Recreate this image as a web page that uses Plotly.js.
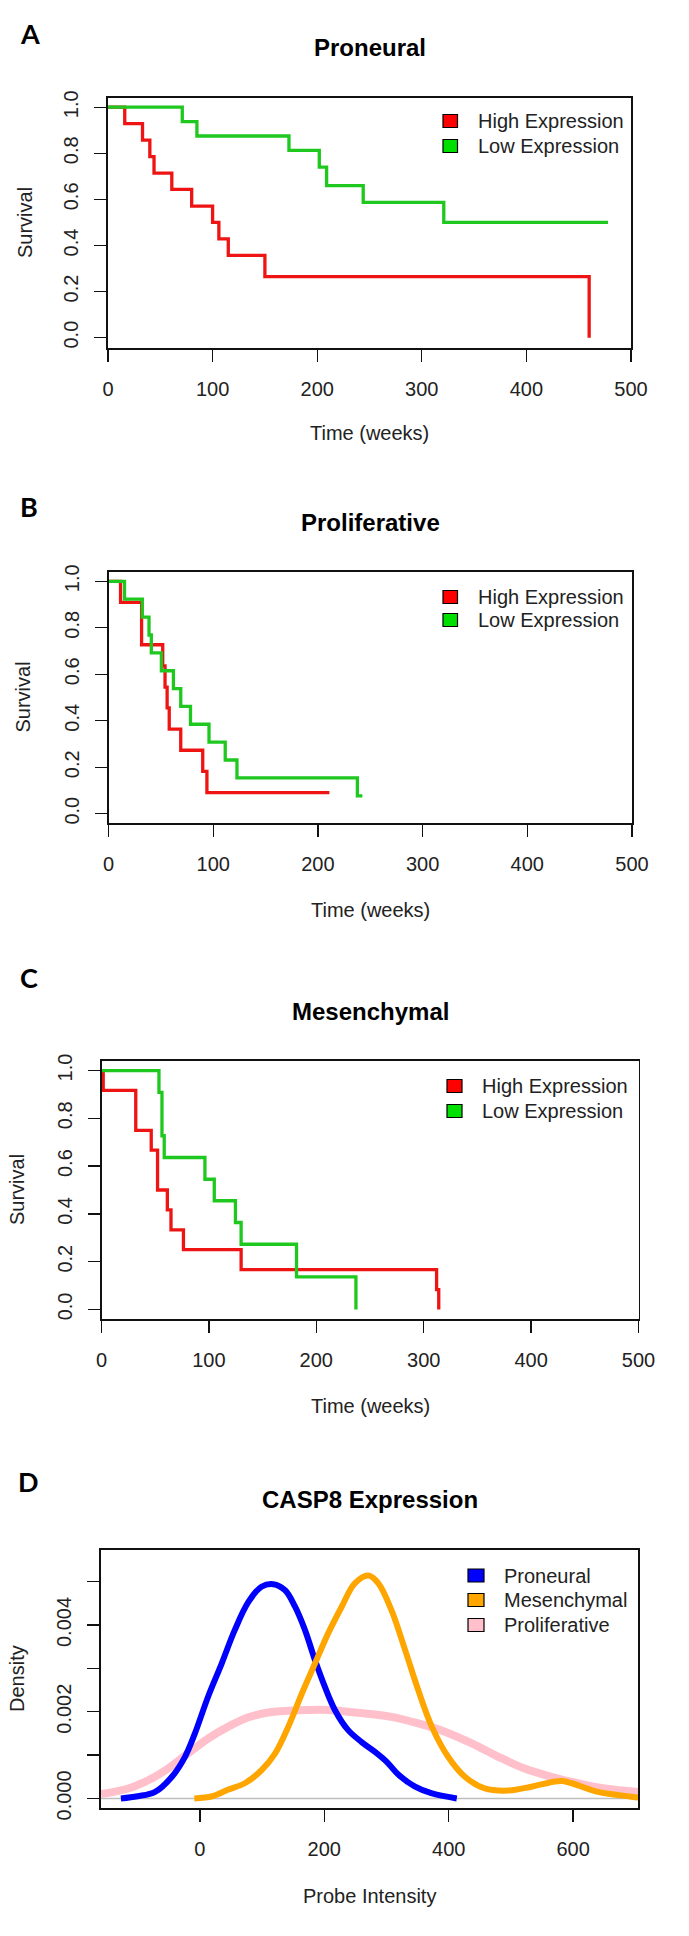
<!DOCTYPE html>
<html>
<head>
<meta charset="utf-8">
<script src="https://cdn.plot.ly/plotly-3.0.1.min.js"></script>
<style>html,body{margin:0;padding:0;background:#fff;}</style>
</head>
<body>
<div id="chart" style="width:689px;height:1936px;"></div>
<script>
// ---------------- DATA ----------------
const kmNames = ['High Expression', 'Low Expression'];
const densNames = ['Proneural', 'Mesenchymal', 'Proliferative'];
const panelLetters = ['A', 'B', 'C', 'D'];
const panelTitles = ['Proneural', 'Proliferative', 'Mesenchymal', 'CASP8 Expression'];
const xTitles = ['Time (weeks)', 'Time (weeks)', 'Time (weeks)', 'Probe Intensity'];
const yTitles = ['Survival', 'Survival', 'Survival', 'Density'];

const survTickVals = [0, 0.2, 0.4, 0.6, 0.8, 1.0];
const survTickText = ['0.0', '0.2', '0.4', '0.6', '0.8', '1.0'];
const timeTickVals = [0, 100, 200, 300, 400, 500];
const densTickVals = [0, 0.001, 0.002, 0.003, 0.004, 0.005];
const densTickText = ['0.000', '', '0.002', '', '0.004', ''];
const intensityTickVals = [0, 200, 400, 600];

// Panel A – Proneural
const timeA_high = [0, 16, 33, 40, 44, 61, 80, 100, 106, 115, 150, 460];
const survA_high = [1, 0.929, 0.857, 0.786, 0.714, 0.643, 0.571, 0.5, 0.429, 0.357, 0.265, 0];
const timeA_low  = [0, 71, 85, 173, 202, 209, 244, 321, 478];
const survA_low  = [1, 0.9375, 0.875, 0.8125, 0.74, 0.66, 0.587, 0.5, 0.5];

// Panel B – Proliferative
const timeB_high = [0, 11.5, 31.6, 51.8, 54, 56, 58, 69, 90, 94, 211];
const survB_high = [1, 0.909, 0.727, 0.636, 0.545, 0.455, 0.364, 0.273, 0.182, 0.091, 0.091];
const timeB_low  = [0, 15.3, 32.3, 38.7, 40.9, 50.5, 62, 69, 78.3, 96, 111.5, 122.7, 237.7, 242.5];
const survB_low  = [1, 0.923, 0.846, 0.769, 0.692, 0.615, 0.538, 0.462, 0.385, 0.308, 0.231, 0.154, 0.077, 0.077];

// Panel C – Mesenchymal
const timeC_high = [0, 1.6, 31.9, 46.3, 52.2, 61.3, 64.7, 76.3, 130, 312, 314];
const survC_high = [1, 0.917, 0.75, 0.667, 0.5, 0.417, 0.333, 0.25, 0.167, 0.083, 0];
const timeC_low  = [0, 53.5, 56.3, 58.4, 96.3, 105, 124.7, 130, 181.6, 236.9];
const survC_low  = [1, 0.909, 0.727, 0.636, 0.545, 0.455, 0.364, 0.273, 0.136, 0];

// Panel D – CASP8 density
const intProneural = [-127, -100, -72, -45, -24, -8, 13, 35, 56, 78, 99, 118, 137, 153, 169, 185, 201, 217, 238, 260, 281, 300, 319, 346, 372, 413];
const densProneural = [0, 0.00005, 0.00015, 0.0005, 0.00096, 0.0015, 0.00234, 0.00311, 0.00388, 0.00453, 0.00488, 0.00494, 0.0048, 0.00442, 0.00388, 0.00319, 0.00257, 0.00204, 0.00158, 0.0013, 0.00108, 0.00085, 0.00055, 0.00027, 0.00012, 0];
const intMesenchymal = [-9, 20, 45, 72, 99, 121, 142, 164, 185, 206, 228, 249, 271, 287, 308, 330, 351, 373, 399, 426, 458, 496, 533, 571, 583, 598, 640, 694, 705];
const densMesenchymal = [0, 0.00005, 0.0002, 0.00035, 0.00065, 0.00104, 0.00165, 0.00242, 0.00311, 0.0038, 0.00442, 0.00496, 0.00514, 0.00496, 0.00434, 0.00342, 0.0025, 0.00165, 0.00096, 0.0005, 0.00023, 0.00018, 0.00027, 0.00039, 0.0004, 0.00035, 0.00015, 0.00004, 0.00002];
const intProliferative = [-159, -115, -83, -51, -19, 13, 45, 78, 110, 142, 174, 206, 238, 265, 308, 351, 394, 437, 480, 522, 565, 608, 651, 705];
const densProliferative = [0.0001, 0.00023, 0.00042, 0.00069, 0.00104, 0.00138, 0.00165, 0.00187, 0.00198, 0.00202, 0.00204, 0.00204, 0.002, 0.00196, 0.00188, 0.00173, 0.00154, 0.00127, 0.00096, 0.00069, 0.0005, 0.00035, 0.00023, 0.00015];

// ---------------- STYLE / LAYOUT ----------------
const W = 689, H = 1936;
const px = v => v / W;
const py = v => 1 - v / H;
const kmLineColors = ['#ee1414', '#1ec81e'];
const kmBoxColors = ['#ff0000', '#00e000'];
const densColors = ['#0000ff', '#ffa500', '#ffc0cb'];
const densWidths = [6, 6, 8];
const tickFont = {family: 'Liberation Sans, Arial, sans-serif', size: 20, color: '#222'};
const textFont = {family: 'Liberation Sans, Arial, sans-serif', size: 20, color: '#222'};

// box: [left, top, right, bottom] in page pixels
const panels = [
  {k: '',  box: [108, 98, 631, 348],      xr: [0, 500],      yr: [-0.045, 1.04], letter: [29.5, 33],  titleY: 47,   xtY: 433,  ytX: 25,
   leg: {bx: [443, 457.5], by: [121, 146], tx: 476}},
  {k: '2', box: [108.5, 572, 632, 823],   xr: [0, 500],      yr: [-0.04, 1.04],  letter: [29, 506],   titleY: 523,  xtY: 910,  ytX: 23,
   leg: {bx: [443, 457.5], by: [597, 620], tx: 476}},
  {k: '3', box: [101.5, 1061, 638.5, 1319], xr: [0, 500],    yr: [-0.04, 1.04],  letter: [29, 977],   titleY: 1011, xtY: 1406, ytX: 17,
   leg: {bx: [447, 462], by: [1086, 1111], tx: 480}},
  {k: '4', box: [101, 1549.5, 638.4, 1808.4], xr: [-159, 705], yr: [-0.00023, 0.00574], letter: [28.5, 1481], titleY: 1499, xtY: 1896, ytX: 17,
   leg: {bx: [468, 484], by: [1575.5, 1600, 1625], tx: 502}}
];

const kmData = [
  [[timeA_high, survA_high], [timeA_low, survA_low]],
  [[timeB_high, survB_high], [timeB_low, survB_low]],
  [[timeC_high, survC_high], [timeC_low, survC_low]]
];

const traces = [];
kmData.forEach((pair, i) => {
  pair.forEach((s, j) => {
    traces.push({
      x: s[0], y: s[1], type: 'scatter', mode: 'lines', name: kmNames[j],
      line: {shape: 'hv', color: kmLineColors[j], width: 3.3},
      xaxis: 'x' + panels[i].k, yaxis: 'y' + panels[i].k, showlegend: false, hoverinfo: 'skip'
    });
  });
});
const densSeries = [[intProneural, densProneural], [intMesenchymal, densMesenchymal], [intProliferative, densProliferative]];
[2, 0, 1].forEach(j => {
  traces.push({
    x: densSeries[j][0], y: densSeries[j][1], type: 'scatter', mode: 'lines', name: densNames[j],
    line: {shape: 'spline', smoothing: 1, color: densColors[j], width: densWidths[j]},
    xaxis: 'x4', yaxis: 'y4', showlegend: false, hoverinfo: 'skip'
  });
});

const layout = {
  width: W, height: H, margin: {l: 0, r: 0, t: 0, b: 0},
  paper_bgcolor: '#fff', plot_bgcolor: '#fff', showlegend: false,
  annotations: [], shapes: []
};

panels.forEach((p, i) => {
  const [l, t, r, b] = p.box;
  const axBase = {
    showline: true, mirror: true, linecolor: '#111', linewidth: 1.6,
    ticks: 'outside', ticklen: 12, tickwidth: 1.4, tickcolor: '#111',
    showgrid: false, zeroline: false, tickfont: tickFont, fixedrange: true
  };
  const xa = Object.assign({}, axBase, {
    domain: [px(l), px(r)], range: p.xr, anchor: 'y' + p.k,
    tickmode: 'array', tickvals: i < 3 ? timeTickVals : intensityTickVals,
    ticklabelstandoff: 10
  });
  const ya = Object.assign({}, axBase, {
    domain: [py(b), py(t)], range: p.yr, anchor: 'x' + p.k,
    tickmode: 'array', tickvals: i < 3 ? survTickVals : densTickVals,
    ticktext: i < 3 ? survTickText : densTickText,
    tickangle: -90, ticklabelstandoff: 8
  });
  layout['xaxis' + p.k] = xa;
  layout['yaxis' + p.k] = ya;
  const cx = (l + r) / 2, cy = (t + b) / 2;
  // panel letter
  layout.annotations.push({text: '<b>' + panelLetters[i] + '</b>', x: px(p.letter[0]), y: py(p.letter[1]),
    xref: 'paper', yref: 'paper', xanchor: 'center', yanchor: 'middle', showarrow: false,
    font: {family: 'Lato, Open Sans, sans-serif', size: 27, color: '#000'}});
  // title
  layout.annotations.push({text: '<b>' + panelTitles[i] + '</b>', x: px(cx), y: py(p.titleY),
    xref: 'paper', yref: 'paper', xanchor: 'center', yanchor: 'middle', showarrow: false,
    font: {family: 'Liberation Sans, Arial, sans-serif', size: 24, color: '#000'}});
  // x title
  layout.annotations.push({text: xTitles[i], x: px(cx), y: py(p.xtY),
    xref: 'paper', yref: 'paper', xanchor: 'center', yanchor: 'middle', showarrow: false, font: textFont});
  // y title
  layout.annotations.push({text: yTitles[i], x: px(p.ytX), y: py(cy), textangle: -90,
    xref: 'paper', yref: 'paper', xanchor: 'center', yanchor: 'middle', showarrow: false, font: textFont});
  // legend
  const names = i < 3 ? kmNames : densNames;
  const cols = i < 3 ? kmBoxColors : densColors;
  names.forEach((nm, j) => {
    const yc = p.leg.by[j];
    layout.shapes.push({type: 'rect', xref: 'paper', yref: 'paper',
      x0: px(p.leg.bx[0]), x1: px(p.leg.bx[1]), y0: py(yc + 6.5), y1: py(yc - 6.5),
      fillcolor: cols[j], line: {color: '#000', width: 1.2}});
    layout.annotations.push({text: nm, x: px(p.leg.tx), y: py(yc), xref: 'paper', yref: 'paper',
      xanchor: 'left', yanchor: 'middle', showarrow: false, font: textFont});
  });
});

// zero line of the density plot
layout.shapes.push({type: 'line', xref: 'x4 domain', yref: 'y4', x0: 0, x1: 1, y0: 0, y1: 0,
  line: {color: '#bebebe', width: 1.5}, layer: 'below'});

Plotly.newPlot('chart', traces, layout, {staticPlot: true, displayModeBar: false});
</script>
</body>
</html>
